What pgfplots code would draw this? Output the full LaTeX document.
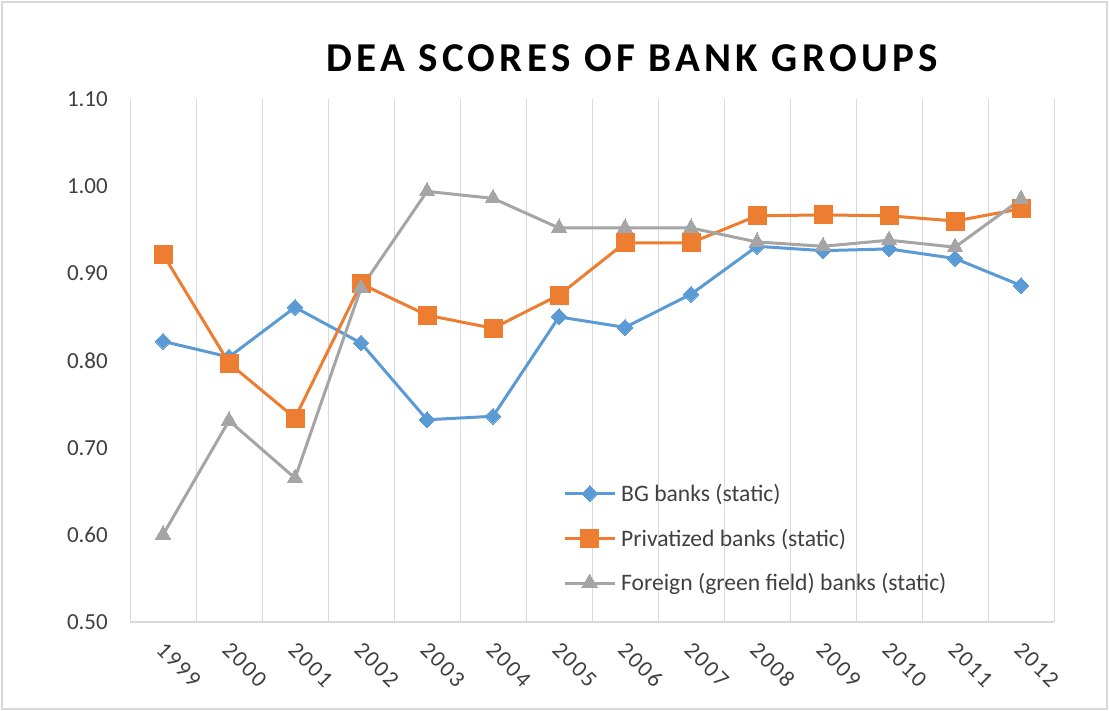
\documentclass[border=0pt]{standalone}
\usepackage{fontspec}
\setmainfont{Carlito}
\usepackage{pgfplots}
\pgfplotsset{compat=1.18}
\definecolor{cblue}{HTML}{5B9BD5}
\definecolor{corange}{HTML}{ED7D31}
\definecolor{cgray}{HTML}{A5A5A5}
\definecolor{gridc}{HTML}{D9D9D9}
\definecolor{txt}{HTML}{404040}
\begin{document}
\begin{tikzpicture}[x=1pt,y=1pt]
\useasboundingbox (0,0) rectangle (1109,711);
\draw[gridc, line width=1.2pt] (2,2) rectangle (1107,709);
\node[font=\fontsize{41}{43}\selectfont\bfseries\addfontfeatures{LetterSpace=10.5}] at (632,653) {DEA SCORES OF BANK GROUPS};
\begin{axis}[
  at={(130pt,89pt)}, anchor=south west,
  scale only axis, width=924pt, height=523pt,
  xmin=-0.5, xmax=13.5, ymin=0.5, ymax=1.1,
  xtick={0,...,13},
  xticklabels={1999,2000,2001,2002,2003,2004,2005,2006,2007,2008,2009,2010,2011,2012},
  minor xtick={-0.5,0.5,...,13.5},
  xminorgrids, minor grid style={gridc, line width=1pt},
  major tick length=0pt, minor tick length=0pt,
  ytick={0.5,0.6,0.7,0.8,0.9,1.0,1.1},
  yticklabel={\pgfmathprintnumber[fixed,fixed zerofill,precision=2]{\tick}},
  /pgf/number format/assume math mode=true,
  tick label style={font=\fontsize{23}{26}\selectfont, text=txt},
  yticklabel style={anchor=east, inner sep=0pt, xshift=-22pt},
  xticklabel style={font=\fontsize{23}{26}\selectfont\addfontfeatures{LetterSpace=8}, rotate=-45, anchor=west, inner sep=0pt, xshift=15pt, yshift=-19pt},
  separate axis lines,
  axis x line*=bottom, x axis line style={gridc, line width=1.2pt, -},
  axis y line*=left, y axis line style={draw=none},
  legend style={draw=none, fill=none, at={(0.4686,0.264)}, anchor=north west,
    font=\fontsize{23.6}{26}\selectfont, text=txt, row sep=26pt, inner sep=0pt,
    nodes={inner sep=0pt}},
  /tikz/every even column/.append style={column sep=0pt},
  /tikz/every odd column/.append style={column sep=5pt},
  legend cell align=left,
  legend image code/.code={\draw[mark repeat=2,mark phase=2] plot coordinates {(0pt,0pt) (25pt,0pt) (50pt,0pt)};},
]
\addplot[cblue, line width=3pt, mark=square*, mark size=5.6pt, mark options={rotate=45, solid, line width=0pt}]
coordinates {(0,0.822)(1,0.804)(2,0.861)(3,0.820)(4,0.732)(5,0.736)(6,0.850)(7,0.838)(8,0.876)(9,0.931)(10,0.926)(11,0.928)(12,0.917)(13,0.886)};
\addlegendentry{BG banks (static)}
\addplot[corange, line width=3pt, mark=square*, mark size=9pt, mark options={solid, line width=0pt}]
coordinates {(0,0.922)(1,0.797)(2,0.734)(3,0.888)(4,0.852)(5,0.837)(6,0.875)(7,0.935)(8,0.935)(9,0.966)(10,0.967)(11,0.966)(12,0.960)(13,0.974)};
\addlegendentry{Privatized banks (static)}
\addplot[cgray, line width=3pt, mark=triangle*, mark size=9pt, mark options={solid, line width=0pt}]
coordinates {(0,0.600)(1,0.731)(2,0.665)(3,0.883)(4,0.994)(5,0.986)(6,0.952)(7,0.952)(8,0.952)(9,0.936)(10,0.931)(11,0.938)(12,0.930)(13,0.985)};
\addlegendentry{Foreign (green field) banks (static)}
\end{axis}
\end{tikzpicture}
\end{document}
